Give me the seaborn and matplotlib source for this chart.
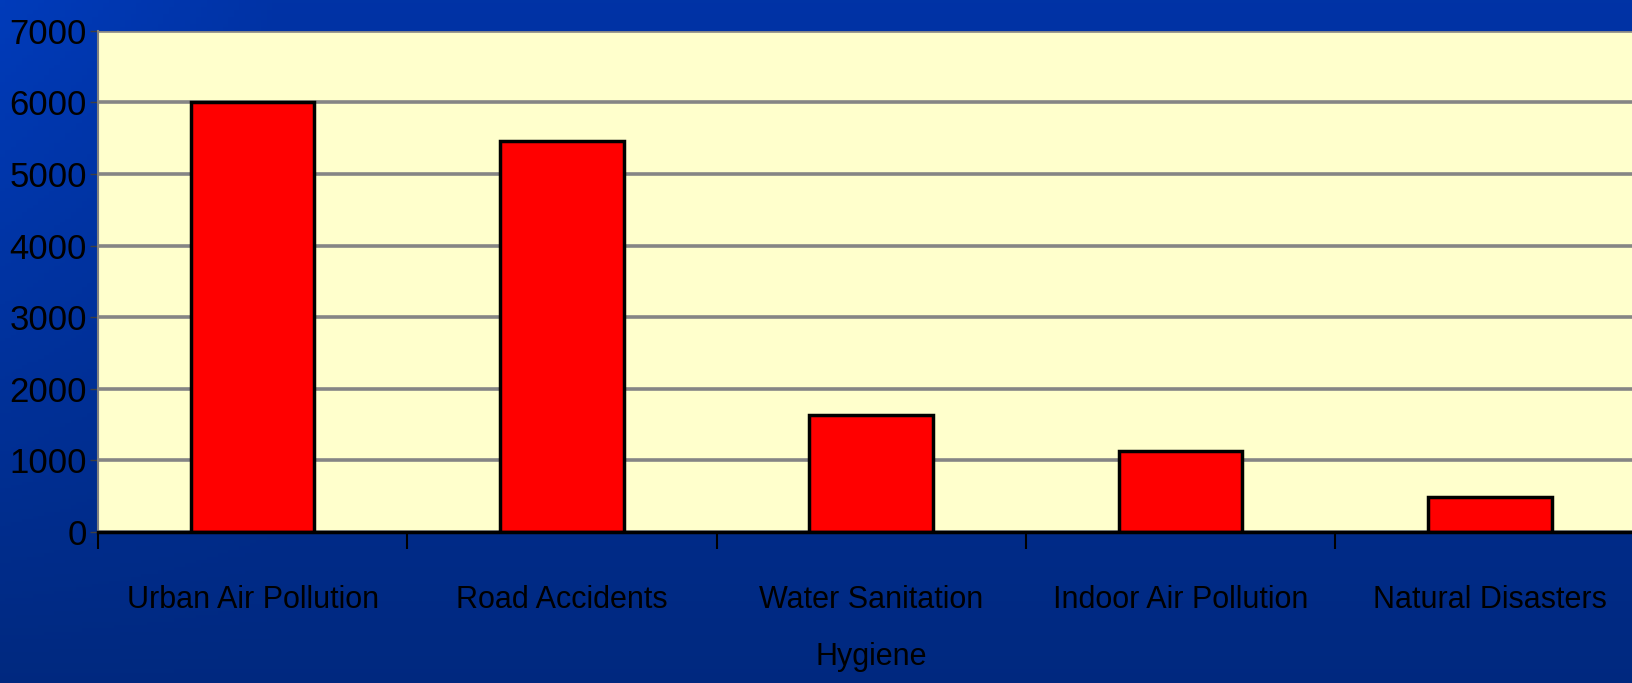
import numpy as np
import pandas as pd
import matplotlib
matplotlib.use("Agg")
import matplotlib.pyplot as plt
import seaborn as sns
from matplotlib import font_manager

categories = ["Urban Air Pollution", "Road Accidents", "Water Sanitation\nHygiene",
              "Indoor Air Pollution", "Natural Disasters"]
values = [6000, 5460, 1640, 1130, 490]
yticks = [0, 1000, 2000, 3000, 4000, 5000, 6000, 7000]

sns.set_theme(style="white")
names = {f.name for f in font_manager.fontManager.ttflist}
fam = "Liberation Sans Narrow" if "Liberation Sans Narrow" in names else "Liberation Sans"
plt.rcParams["font.family"] = [fam, "DejaVu Sans"]

fig = plt.figure(figsize=(16.32, 6.83), dpi=100)

# background gradient
bg = fig.add_axes([0, 0, 1, 1], zorder=-10)
h, w = 200, 300
yy = np.linspace(0, 1, h)[:, None]
xx = np.linspace(0, 1, w)[None, :]
top = np.array([0.0, 0.20, 0.65])
bot = np.array([0.0, 0.16, 0.50])
left_boost = np.array([0.0, 0.04, 0.10])
img = top[None, None, :] * (1 - yy[..., None]) + bot[None, None, :] * yy[..., None]
img = img + left_boost[None, None, :] * np.clip(1 - xx[..., None] * 6, 0, 1) * (1 - yy[..., None]) * 0.8
img = np.clip(img, 0, 1)
bg.imshow(img, aspect="auto", extent=[0, 1, 0, 1])
bg.axis("off")

ax = fig.add_axes([0.060, 0.221, 0.940, 0.734])
df = pd.DataFrame({"cat": categories, "val": values})
sns.barplot(data=df, x="cat", y="val", color="#FF0000", saturation=1, width=0.4,
            edgecolor="black", linewidth=2.5, ax=ax, zorder=3)
ax.set_facecolor("#FFFFCC")
ax.set_ylim(0, 7000)
ax.set_xlim(-0.5, 4.46)
ax.set_yticks(yticks)
ax.set_yticklabels([str(v) for v in yticks], fontsize=25, color="black")
ax.yaxis.grid(True, color="#858585", linewidth=2.6, zorder=0)
ax.set_axisbelow(True)
ax.set_xlabel("")
ax.set_ylabel("")

ax.set_xticks(range(len(categories)))
ax.set_xticklabels(categories, fontsize=22, color="black", linespacing=2.2)
ax.tick_params(axis="x", which="major", length=0, pad=38, bottom=True)
ax.set_xticks([-0.5, 0.5, 1.5, 2.5, 3.5], minor=True)
ax.tick_params(axis="x", which="minor", length=12, width=1.5, color="black",
               direction="out", bottom=True)
ax.tick_params(axis="y", length=6, width=1, color="#404040", direction="out", pad=2, left=True)

for s in ["top", "right"]:
    ax.spines[s].set_visible(False)
ax.spines["bottom"].set_color("black")
ax.spines["bottom"].set_linewidth(2.5)
ax.spines["bottom"].set_zorder(5)
ax.spines["left"].set_color("#808080")
ax.spines["left"].set_linewidth(1.5)

fig.savefig("out.png", dpi=100)
